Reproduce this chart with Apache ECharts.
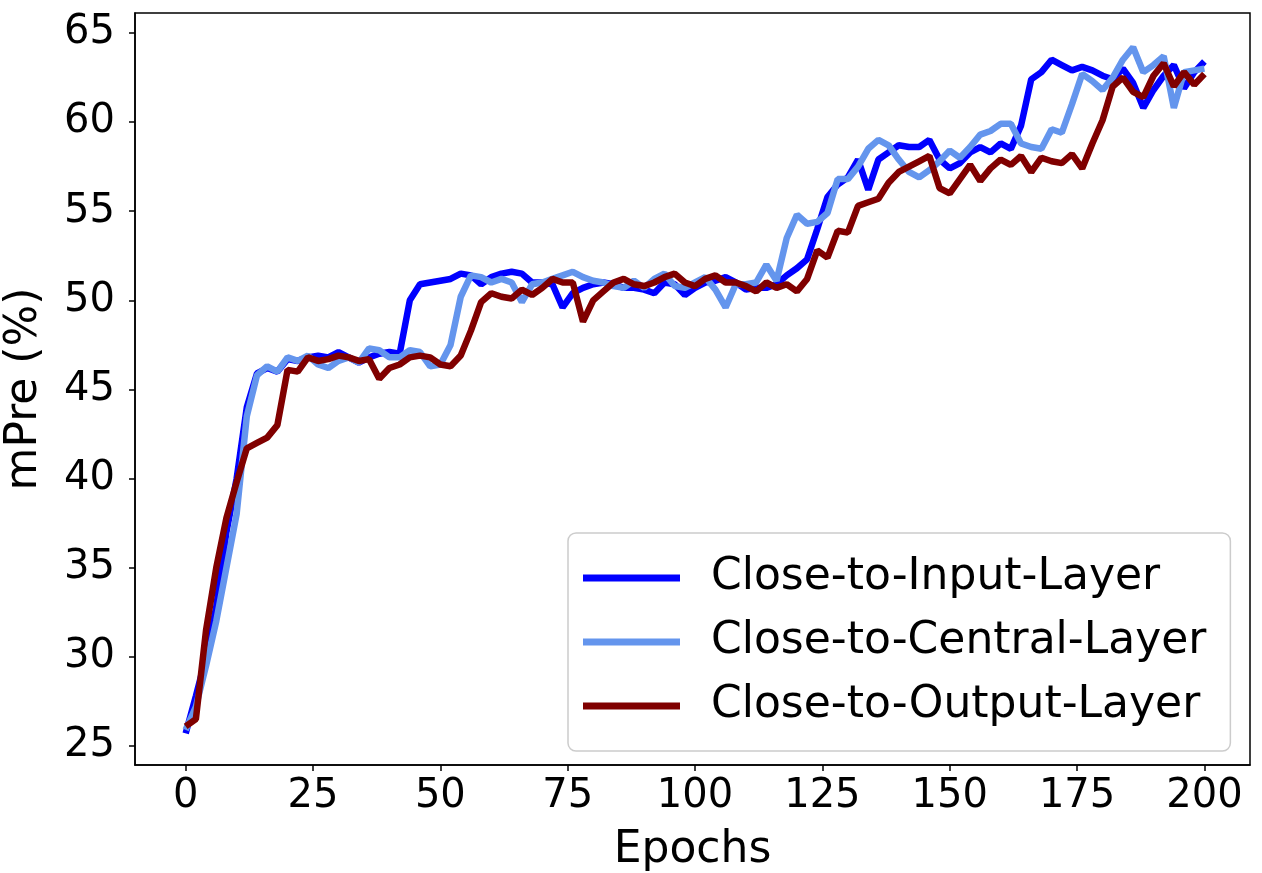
<!DOCTYPE html>
<html>
<head>
<meta charset="utf-8">
<script src="https://cdn.jsdelivr.net/npm/echarts@6/dist/echarts.min.js"></script>
<style>
  html, body { margin: 0; padding: 0; background: #fff; }
  #chart { width: 1262px; height: 873px; }
</style>
</head>
<body>
<div id="chart"></div>
<script>
  // epochs sampled every 2
  const epochs = [
    0, 2, 4, 6, 8, 10, 12, 14, 16, 18, 20, 22, 24, 26, 28, 30, 32, 34, 36, 38,
    40, 42, 44, 46, 48, 50, 52, 54, 56, 58, 60, 62, 64, 66, 68, 70, 72, 74, 76, 78,
    80, 82, 84, 86, 88, 90, 92, 94, 96, 98, 100, 102, 104, 106, 108, 110, 112, 114, 116, 118,
    120, 122, 124, 126, 128, 130, 132, 134, 136, 138, 140, 142, 144, 146, 148, 150, 152, 154, 156, 158,
    160, 162, 164, 166, 168, 170, 172, 174, 176, 178, 180, 182, 184, 186, 188, 190, 192, 194, 196, 198, 200
  ];
  const inputLayer = [
    25.7, 27.8, 30.0, 32.8, 37.0, 40.0, 44.0, 45.9, 46.2, 46.0, 46.7, 46.6, 46.8, 46.9, 46.8, 47.1, 46.8, 46.5, 46.8, 47.0,
    47.1, 47.0, 50.0, 50.9, 51.0, 51.1, 51.2, 51.5, 51.4, 50.9, 51.3, 51.5, 51.6, 51.5, 51.0, 51.0, 50.9, 49.6, 50.4, 50.7,
    50.9, 51.0, 50.9, 50.7, 50.7, 50.6, 50.4, 51.0, 50.9, 50.3, 50.7, 51.0, 51.1, 51.3, 51.0, 50.6, 50.7, 50.7, 50.9, 51.4,
    51.8, 52.3, 54.0, 55.8, 56.5, 56.9, 57.9, 56.2, 57.9, 58.3, 58.7, 58.6, 58.6, 59.0, 57.9, 57.4, 57.7, 58.3, 58.6, 58.3,
    58.8, 58.5, 59.8, 62.4, 62.8, 63.5, 63.2, 62.9, 63.1, 62.9, 62.6, 62.4, 63.0, 62.2, 60.8, 61.8, 62.6, 63.2, 61.9, 62.8, 63.4
  ];
  const centralLayer = [
    25.9, 27.2, 29.5, 32.0, 35.0, 38.0, 43.5, 45.8, 46.3, 46.0, 46.8, 46.6, 46.9, 46.4, 46.2, 46.6, 46.8, 46.5, 47.3, 47.2,
    46.8, 46.8, 47.2, 47.1, 46.3, 46.4, 47.5, 50.2, 51.4, 51.3, 51.0, 51.2, 51.0, 49.9, 50.9, 51.0, 51.2, 51.4, 51.6, 51.3,
    51.1, 51.0, 50.8, 50.7, 51.1, 50.7, 51.2, 51.5, 50.8, 50.7, 51.0, 51.3, 50.6, 49.6, 50.9, 50.9, 51.0, 52.0, 51.1, 53.5,
    54.8, 54.3, 54.4, 54.9, 56.8, 56.8, 57.5, 58.5, 59.0, 58.7, 57.9, 57.2, 56.9, 57.3, 57.8, 58.4, 58.0, 58.6, 59.3, 59.5,
    59.9, 59.9, 58.8, 58.6, 58.5, 59.6, 59.4, 61.0, 62.7, 62.3, 61.8, 62.5, 63.5, 64.2, 62.8, 63.2, 63.7, 60.8, 62.8, 62.9, 63.0
  ];
  const outputLayer = [
    26.1, 26.5, 31.5, 35.0, 37.8, 39.8, 41.7, 42.0, 42.3, 43.0, 46.1, 46.0, 46.8, 46.6, 46.7, 46.9, 46.8, 46.6, 46.7, 45.6,
    46.2, 46.4, 46.8, 46.9, 46.8, 46.4, 46.3, 46.9, 48.3, 49.9, 50.4, 50.2, 50.1, 50.6, 50.3, 50.7, 51.2, 51.0, 51.0, 48.8,
    50.0, 50.5, 51.0, 51.2, 50.9, 50.8, 51.0, 51.3, 51.5, 51.0, 50.8, 51.2, 51.4, 51.0, 51.0, 50.8, 50.5, 51.0, 50.7, 50.9,
    50.5, 51.2, 52.8, 52.4, 53.9, 53.8, 55.3, 55.5, 55.7, 56.6, 57.2, 57.5, 57.8, 58.1, 56.3, 56.0, 56.8, 57.6, 56.7, 57.4,
    57.9, 57.6, 58.1, 57.2, 58.0, 57.8, 57.7, 58.2, 57.4, 58.8, 60.1, 62.0, 62.5, 61.7, 61.4, 62.6, 63.3, 62.0, 62.8, 62.1, 62.7
  ];
  const xTicks = [0, 25, 50, 75, 100, 125, 150, 175, 200];
  const yTicks = [25, 30, 35, 40, 45, 50, 55, 60, 65];
  const seriesNames = ['Close-to-Input-Layer', 'Close-to-Central-Layer', 'Close-to-Output-Layer'];

  const font = 'DejaVu Sans';
  const toPairs = vals => epochs.map((e, i) => [e, vals[i]]);

  const chart = echarts.init(document.getElementById('chart'));
  chart.setOption({
    animation: false,
    backgroundColor: '#fff',
    grid: {
      left: 135, right: 12, top: 13, bottom: 108,
      outerBoundsMode: 'none',
      containLabel: false,
      show: true,
      borderColor: '#000',
      borderWidth: 1.5
    },
    xAxis: {
      type: 'value',
      min: -9.95,
      max: 208.95,
      name: 'Epochs',
      nameLocation: 'middle',
      nameGap: 64,
      nameTextStyle: { fontFamily: font, fontSize: 44, color: '#000' },
      axisLine: { show: true, onZero: false, lineStyle: { color: '#000', width: 1.5 } },
      axisTick: { show: true, inside: false, length: 6, lineStyle: { color: '#000', width: 1.5 }, customValues: xTicks },
      axisLabel: { fontFamily: font, fontSize: 40, color: '#000', margin: 12, customValues: xTicks },
      splitLine: { show: false }
    },
    yAxis: {
      type: 'value',
      min: 23.93,
      max: 66.12,
      name: 'mPre (%)',
      nameLocation: 'middle',
      nameGap: 88,
      nameTextStyle: { fontFamily: font, fontSize: 44, color: '#000' },
      axisLine: { show: true, onZero: false, lineStyle: { color: '#000', width: 1.5 } },
      axisTick: { show: true, inside: false, length: 6, lineStyle: { color: '#000', width: 1.5 }, customValues: yTicks },
      axisLabel: { fontFamily: font, fontSize: 40, color: '#000', margin: 20, customValues: yTicks },
      splitLine: { show: false }
    },
    legend: {
      orient: 'vertical',
      left: 568,
      top: 533,
      align: 'left',
      icon: 'rect',
      itemWidth: 97,
      itemHeight: 7,
      itemGap: 14,
      padding: [20, 24, 20, 15],
      backgroundColor: '#fff',
      borderColor: '#ccc',
      borderWidth: 1.5,
      borderRadius: 8,
      textStyle: { fontFamily: font, fontSize: 44, color: '#000', lineHeight: 50, padding: [0, 0, 0, 26] },
      data: seriesNames
    },
    series: [
      { name: seriesNames[0], type: 'line', data: toPairs(inputLayer), showSymbol: false, symbol: 'none',
        lineStyle: { color: '#0000ff', width: 6.5 }, itemStyle: { color: '#0000ff' } },
      { name: seriesNames[1], type: 'line', data: toPairs(centralLayer), showSymbol: false, symbol: 'none',
        lineStyle: { color: '#6495ed', width: 6.5 }, itemStyle: { color: '#6495ed' } },
      { name: seriesNames[2], type: 'line', data: toPairs(outputLayer), showSymbol: false, symbol: 'none',
        lineStyle: { color: '#800000', width: 6.5 }, itemStyle: { color: '#800000' } }
    ]
  });
  window.onresize = function () {
    chart.resize();
  };
</script>
</body>
</html>
